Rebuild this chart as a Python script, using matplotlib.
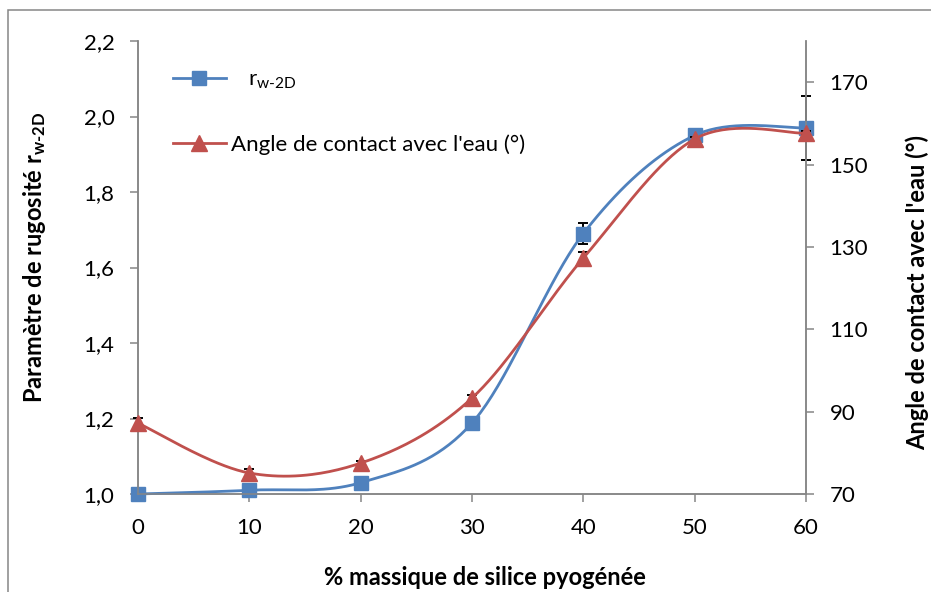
import numpy as np
import matplotlib
matplotlib.use("Agg")
from matplotlib import pyplot as plt
from matplotlib.patches import Rectangle

plt.rcParams["font.family"] = ["Lato", "DejaVu Sans"]
plt.rcParams["mathtext.fontset"] = "custom"
plt.rcParams["mathtext.rm"] = "Lato"
plt.rcParams["mathtext.bf"] = "Lato:bold"
plt.rcParams["mathtext.it"] = "Lato:italic"

# silica content (wt %)
silica = [0, 10, 20, 30, 40, 50, 60]
# roughness parameter r_w-2D
roughness = [1.00, 1.01, 1.03, 1.188, 1.69, 1.95, 1.97]
roughness_err = [0, 0, 0, 0, 0.028, 0, 0.084]
# water contact angle (degrees)
angle = [87.2, 75.1, 77.5, 93.3, 127.3, 156.2, 157.6]
angle_err = [1.2, 1.0, 0.5, 0.8, 1.5, 0.5, 0.5]

BLUE = "#4F81BD"
RED = "#C0504D"
AXIS_GREY = "#868686"
HYPHEN = "\u2010"


def smooth(x, y, n=40):
    """Bezier smoothing through every point, like spreadsheet 'smoothed lines'."""
    pts = np.column_stack([x, y]).astype(float)
    p = np.vstack([pts[0], pts, pts[-1]])
    t = np.linspace(0, 1, n)[:, None]
    out = []
    for i in range(1, len(p) - 2):
        p0, p1, p2, p3 = p[i - 1], p[i], p[i + 1], p[i + 2]
        c1 = p1 + (p2 - p0) / 6
        c2 = p2 - (p3 - p1) / 6
        seg = (1 - t) ** 3 * p1 + 3 * (1 - t) ** 2 * t * c1 + 3 * (1 - t) * t ** 2 * c2 + t ** 3 * p2
        out.append(seg if i == 1 else seg[1:])
    out = np.vstack(out)
    return out[:, 0], out[:, 1]


fig = plt.figure(figsize=(9.31, 5.92), dpi=100)
ax = fig.add_axes([138 / 931, 1 - 494 / 592, (806 - 138) / 931, (494 - 41) / 592])
ax2 = ax.twinx()

# chart frame
fig.add_artist(Rectangle((8 / 931, -0.1), 2, 1 - 10 / 592 + 0.1, transform=fig.transFigure,
                         fill=False, edgecolor=AXIS_GREY, lw=1.1))

# roughness series
sx, sy = smooth(silica, roughness)
eb = ax.errorbar(silica, roughness, yerr=roughness_err, fmt="none", ecolor="black",
                 elinewidth=1.4, capsize=3.5, capthick=1.4, zorder=2)
ax.plot(sx, sy, color=BLUE, lw=2.0, zorder=3, clip_on=False)
ax.plot(silica, roughness, ls="none", marker="s", ms=10, color=BLUE,
        markeredgecolor=BLUE, zorder=4, clip_on=False)

# contact angle series
ax2.set_zorder(ax.get_zorder() + 1)
ax2.patch.set_visible(False)
ax.patch.set_visible(False)
tx, ty = smooth(silica, angle)
eb2 = ax2.errorbar(silica, angle, yerr=angle_err, fmt="none", ecolor="black",
                   elinewidth=1.4, capsize=3.5, capthick=1.4, zorder=2)
ax2.plot(tx, ty, color=RED, lw=2.0, zorder=3, clip_on=False)
ax2.plot(silica, angle, ls="none", marker="^", ms=11, color=RED,
         markeredgecolor=RED, zorder=4, clip_on=False)

for container in (eb, eb2):
    for artist in container.lines[1] + container.lines[2]:
        artist.set_clip_on(False)

ax.set_xlim(0, 60)
ax.set_ylim(1.0, 2.2)
ax2.set_ylim(70, 180)
ax.set_xticks(np.arange(0, 61, 10))
ax.set_yticks(np.arange(1.0, 2.21, 0.2))
ax.set_yticklabels([f"{v:.1f}".replace(".", ",") for v in np.arange(1.0, 2.21, 0.2)])
ax2.set_yticks(np.arange(70, 171, 20))

for a in (ax, ax2):
    a.spines["top"].set_visible(False)
    for s in ("left", "right", "bottom"):
        a.spines[s].set_color(AXIS_GREY)
        a.spines[s].set_linewidth(1.1)
    a.tick_params(direction="out", length=6, width=1.1, color=AXIS_GREY,
                  labelsize=16, pad=11, labelcolor="black")

ax.text(-0.155, 0.523, "Paramètre de rugosité r$_{\\mathbf{w" + HYPHEN + "2D}}$",
        transform=ax.transAxes, rotation=90, ha="center", va="center",
        fontsize=17, fontweight="bold")
ax.text(1.166, 0.444, "Angle de contact avec l'eau (°)", transform=ax.transAxes,
        rotation=90, ha="center", va="center", fontsize=17, fontweight="bold")
ax.text(0.519, -0.185, "% massique de silice pyogénée", transform=ax.transAxes,
        ha="center", va="center", fontsize=17, fontweight="bold")

# legend
h1 = plt.Line2D([], [], color=BLUE, lw=2.0, marker="s", ms=10)
h2 = plt.Line2D([], [], color=RED, lw=2.0, marker="^", ms=11)
ax2.legend([h1, h2], ["   $\\mathregular{r_{w" + HYPHEN + "2D}}$", "Angle de contact avec l'eau (°)"],
           loc="upper left", bbox_to_anchor=(0.052, 0.937), frameon=False, fontsize=16,
           handlelength=2.4, handletextpad=0.22, labelspacing=1.95, borderpad=0,
           borderaxespad=0)

fig.savefig("out.png", dpi=100)
